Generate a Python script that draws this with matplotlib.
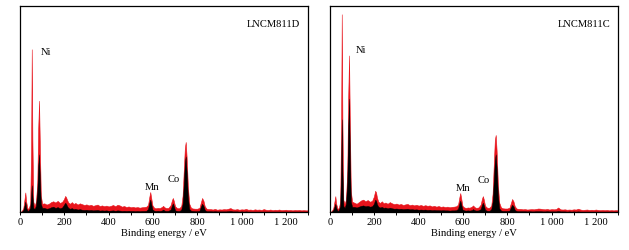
import matplotlib
matplotlib.use("Agg")
import matplotlib.pyplot as plt
from matplotlib.ticker import MultipleLocator, FuncFormatter

plt.rcParams["font.family"] = ["Liberation Serif", "DejaVu Serif"]

# binding energy grid (eV), finer around the peaks
ENERGY = [
    0, 8, 15, 20, 24, 28, 34, 40, 46, 50, 53, 56, 60, 66, 72, 78, 82, 86, 90, 94, 100,
    110, 120, 130, 140, 150, 160, 170, 180, 190, 198, 204, 208, 212, 218, 226, 234, 242, 250,
    260, 270, 280, 290, 300, 310, 320, 330,
    340, 350, 360, 370, 380, 390, 400, 410,
    420, 430, 440, 450, 460, 470, 480, 490,
    500, 510, 520, 530, 540, 550, 560, 570,
    578, 584, 588, 592, 598, 606, 614, 622, 630, 640,
    646, 652, 660, 670, 680, 686, 690, 694, 700, 710,
    720, 728, 734, 740, 744, 748, 752, 758, 764, 772,
    780, 790, 800, 810, 816, 822, 828, 834, 842, 850,
    860, 870, 880, 890, 900, 910, 920, 930, 940,
    950, 960, 970, 980, 990, 1000, 1010, 1020, 1030,
    1040, 1050, 1060, 1070, 1080, 1090, 1100, 1110, 1120,
    1130, 1140, 1150, 1160, 1170, 1180, 1190, 1200, 1210,
    1220, 1230, 1240, 1250, 1260, 1270, 1280, 1290, 1300,
]

# LNCM811D, intensity in % of axis height
D_RED = [
    0, 0.5, 2, 6, 9.5, 5, 1.5, 2, 4, 30, 79, 35, 5, 3, 5, 14, 40, 54, 30, 8, 4,
    4.2, 3.6, 4.0, 4.8, 5.2, 4.6, 5.4, 4.4, 4.9, 6.2, 7.8, 7.2, 6.0, 4.6, 4.0, 4.8, 3.9, 4.4,
    3.6, 4.2, 3.8, 3.4, 3.7, 3.2, 3.5, 3.0,
    3.3, 3.6, 2.9, 3.2, 2.8, 3.1, 2.7, 3.0,
    3.4, 2.8, 3.5, 3.2, 2.6, 2.9, 2.4, 2.7,
    2.3, 2.5, 2.2, 2.4, 2.1, 2.3, 2.4, 2.6,
    3.5, 7.5, 9.7, 7.0, 3.2, 2.0, 1.8, 2.0, 1.9, 2.4,
    3.0, 2.3, 1.9, 2.0, 3.4, 5.8, 6.8, 5.5, 2.8, 1.8,
    1.9, 3.0, 8, 22, 31, 34, 27, 12, 4, 2.0,
    1.7, 1.6, 1.6, 2.0, 4.5, 6.8, 5.5, 2.8, 1.6, 1.4,
    1.4, 1.2, 1.5, 1.1, 1.3, 1.2, 1.4, 1.3, 1.6,
    1.9, 1.3, 1.2, 1.4, 1.1, 1.3, 1.2, 1.5, 1.1,
    1.2, 1.0, 1.3, 1.1, 1.2, 1.0, 1.4, 1.1, 1.0,
    1.2, 0.9, 1.1, 1.0, 1.2, 0.9, 1.0, 1.1, 0.9,
    1.0, 0.8, 1.0, 0.9, 1.0, 0.8, 0.9, 0.8, 0.8,
]
D_BLACK = [
    0, 0.2, 1, 3, 5, 2, 0.5, 1, 2, 8, 13, 8, 2, 1.5, 3, 10, 22, 28, 15, 4, 2,
    2.0, 1.6, 1.8, 2.3, 2.6, 2.0, 2.4, 1.8, 2.2, 3.5, 4.5, 4.0, 3.0, 2.0, 1.6, 1.9, 1.4, 1.6,
    1.2, 1.4, 1.1, 1.0, 1.1, 0.9, 1.0, 0.8,
    0.9, 1.0, 0.7, 0.8, 0.7, 0.8, 0.6, 0.7,
    0.8, 0.6, 0.8, 0.7, 0.5, 0.6, 0.5, 0.6,
    0.5, 0.5, 0.4, 0.5, 0.4, 0.5, 0.5, 0.6,
    1.5, 4.5, 6.0, 4.0, 1.2, 0.6, 0.5, 0.6, 0.5, 0.7,
    1.2, 0.7, 0.5, 0.6, 1.2, 3.2, 4.2, 3.0, 0.8, 0.5,
    0.5, 1.2, 4, 15, 24, 27, 20, 7, 1.5, 0.6,
    0.5, 0.4, 0.4, 0.6, 2.5, 4.0, 3.0, 1.0, 0.4, 0.4,
    0.4, 0.3, 0.4, 0.3, 0.3, 0.3, 0.3, 0.3, 0.4,
    0.5, 0.3, 0.3, 0.3, 0.2, 0.3, 0.2, 0.3, 0.2,
    0.2, 0.2, 0.2, 0.2, 0.2, 0.2, 0.2, 0.2, 0.2,
    0.2, 0.2, 0.2, 0.2, 0.2, 0.2, 0.2, 0.2, 0.2,
    0.2, 0.2, 0.2, 0.2, 0.2, 0.2, 0.2, 0.2, 0.2,
]

# LNCM811C
C_RED = [
    0, 0.5, 2, 5, 7.7, 4, 1.5, 2, 5, 40, 96, 45, 6, 4, 6, 20, 55, 76, 40, 10, 5,
    4.5, 4.0, 4.8, 5.6, 6.0, 5.2, 5.8, 5.0, 5.4, 7.5, 10.3, 9.5, 7.0, 5.0, 4.4, 5.2, 4.2, 4.6,
    4.0, 4.8, 4.2, 3.8, 4.1, 3.6, 3.9, 3.4,
    3.7, 3.9, 3.3, 3.6, 3.2, 3.5, 3.1, 3.4,
    3.0, 3.3, 3.0, 3.2, 2.7, 3.0, 2.6, 2.9,
    2.5, 2.7, 2.4, 2.6, 2.3, 2.5, 2.6, 2.8,
    3.6, 7.2, 9.2, 6.8, 3.0, 2.2, 2.0, 2.2, 2.1, 2.6,
    3.2, 2.4, 2.0, 2.2, 3.6, 6.5, 7.7, 6.2, 3.0, 2.0,
    2.1, 3.2, 9, 25, 35, 37.4, 30, 13, 4.5, 2.2,
    1.8, 1.7, 1.7, 2.1, 4.2, 6.3, 5.2, 2.8, 1.7, 1.5,
    1.5, 1.3, 1.4, 1.2, 1.3, 1.4, 1.3, 1.5, 1.7,
    1.6, 1.4, 1.3, 1.5, 1.2, 1.4, 1.3, 1.4, 2.2,
    1.3, 1.2, 1.3, 1.1, 1.2, 1.1, 1.3, 1.2, 1.6,
    1.2, 1.0, 1.1, 1.2, 1.0, 1.1, 1.0, 1.2, 1.0,
    0.9, 1.0, 0.9, 1.0, 0.8, 0.9, 0.8, 0.9, 0.8,
]
C_BLACK = [
    0, 0.2, 1, 2.5, 4, 2, 0.5, 1, 3, 20, 45, 20, 3, 2, 4, 15, 40, 55, 25, 5, 2.5,
    2.5, 2.2, 2.6, 3.0, 3.2, 2.8, 3.0, 2.6, 2.8, 4.0, 6.0, 5.5, 3.8, 2.6, 2.2, 2.5, 2.0, 2.2,
    1.8, 2.1, 1.8, 1.6, 1.7, 1.5, 1.6, 1.4,
    1.5, 1.6, 1.3, 1.4, 1.2, 1.3, 1.1, 1.2,
    1.1, 1.2, 1.0, 1.1, 0.9, 1.0, 0.9, 0.9,
    0.8, 0.9, 0.8, 0.8, 0.7, 0.8, 0.8, 0.9,
    1.6, 4.2, 5.5, 3.8, 1.2, 0.8, 0.7, 0.8, 0.7, 0.9,
    1.4, 0.9, 0.7, 0.8, 1.4, 3.5, 4.5, 3.4, 1.0, 0.6,
    0.6, 1.4, 5, 17, 25, 28, 22, 8, 1.8, 0.7,
    0.5, 0.5, 0.5, 0.7, 2.2, 3.5, 2.8, 1.0, 0.5, 0.4,
    0.4, 0.4, 0.4, 0.3, 0.4, 0.3, 0.3, 0.4, 0.4,
    0.4, 0.3, 0.3, 0.4, 0.3, 0.3, 0.3, 0.3, 0.5,
    0.3, 0.3, 0.3, 0.2, 0.3, 0.2, 0.3, 0.2, 0.3,
    0.2, 0.2, 0.2, 0.2, 0.2, 0.2, 0.2, 0.2, 0.2,
    0.2, 0.2, 0.2, 0.2, 0.2, 0.2, 0.2, 0.2, 0.2,
]

PANELS = [
    ("LNCM811D", D_RED, D_BLACK, {"Ni": (93, 77.8), "Mn": (598, 12.6), "Co": (695, 16.5)}),
    ("LNCM811C", C_RED, C_BLACK, {"Ni": (116, 79.0), "Mn": (600, 11.7), "Co": (695, 16.0)}),
]

RED = "#e8141c"
FS = 7.6


def thousands(v, _pos):
    v = int(round(v))
    if v >= 1000:
        return f"{v // 1000} {v % 1000:03d}"
    return str(v)


def draw_panel(ax, name, red, black, labels):
    ax.fill_between(ENERGY, 0, red, color=RED, lw=0.4, edgecolor=RED)
    ax.fill_between(ENERGY, 0, black, color="black", lw=0.3, edgecolor="black")
    ax.set_xlim(0, 1300)
    ax.set_ylim(0, 100)
    ax.set_yticks([])
    ax.xaxis.set_major_locator(MultipleLocator(200))
    ax.xaxis.set_minor_locator(MultipleLocator(100))
    ax.xaxis.set_major_formatter(FuncFormatter(thousands))
    ax.tick_params(axis="x", which="both", direction="out", length=2.2, width=0.7,
                   labelsize=FS, pad=1.5)
    for s in ax.spines.values():
        s.set_linewidth(0.9)
    ax.set_xlabel("Binding energy / eV", fontsize=FS, labelpad=1.5)
    ax.text(1264, 91.7, name, ha="right", va="center", fontsize=FS)
    ni_x, ni_y = labels["Ni"]
    ax.text(ni_x, ni_y, "Ni", ha="left", va="center", fontsize=FS)
    for el in ("Mn", "Co"):
        x, y = labels[el]
        ax.text(x, y, el, ha="center", va="center", fontsize=FS)


def main():
    fig = plt.figure(figsize=(6.29, 2.51), dpi=100)
    lefts = [20 / 629, 330 / 629]
    for left, (name, red, black, labels) in zip(lefts, PANELS):
        ax = fig.add_axes([left, 38 / 251, 288 / 629, 206 / 251])
        draw_panel(ax, name, red, black, labels)
    fig.savefig("out.png", dpi=100)


if __name__ == "__main__":
    main()
